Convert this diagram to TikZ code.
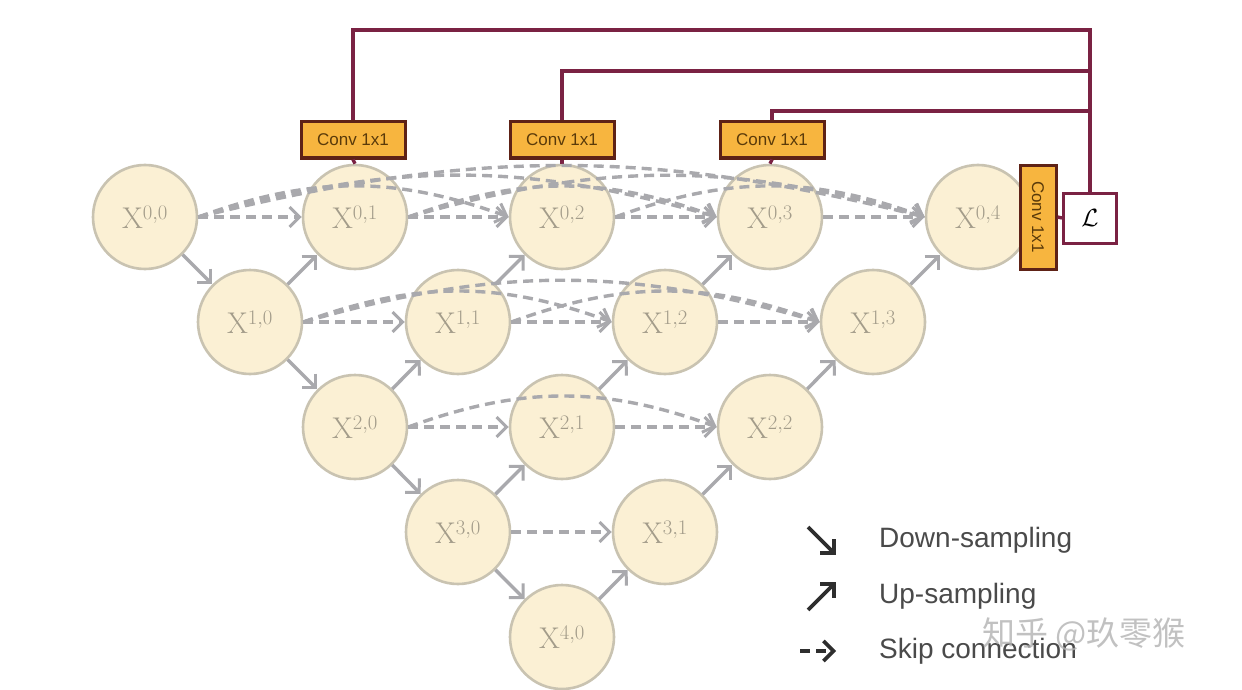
\documentclass[tikz,border=0pt]{standalone}
\usepackage{fontspec}
\setsansfont{Liberation Sans}
\newfontfamily\cjk{Noto Sans CJK SC}
\usetikzlibrary{arrows.meta,calc}
\definecolor{maroon}{HTML}{7A2243}
\definecolor{convfill}{HTML}{F7B53F}
\definecolor{convdraw}{HTML}{5E2216}
\definecolor{convtext}{HTML}{5A3A0A}
\definecolor{nodefill}{HTML}{FBF0D4}
\definecolor{nodedraw}{HTML}{C9C3B1}
\definecolor{arrgray}{HTML}{A9A9AD}
\definecolor{labgray}{HTML}{A39C8A}
\definecolor{legdark}{HTML}{2E2E2E}
\definecolor{legtext}{HTML}{4A4A4A}
\tikzset{
  xnode/.style={circle, minimum size=104pt, inner sep=0pt, draw=nodedraw, line width=2.6pt, fill=nodefill,
    text=labgray, font=\fontsize{30}{32}\selectfont},
  conv/.style={draw=convdraw, line width=3pt, fill=convfill, text=convtext, minimum width=104pt, minimum height=36pt,
    inner sep=0pt, font=\sffamily\fontsize{17}{19}\selectfont},
  lossbox/.style={draw=maroon, line width=3pt, fill=white, minimum width=53pt, minimum height=50pt, inner sep=0pt,
    font=\fontsize{26}{28}\selectfont},
  wire/.style={maroon, line width=3.4pt},
  tipg/.style={-{Straight Barb[length=10pt,width=20pt,line width=3pt]}},
  samp/.style={arrgray, line width=3.4pt, tipg},
  skip/.style={arrgray, line width=3.4pt, dash pattern=on 10pt off 6pt, tipg},
  arc/.style={skip},
  legarr/.style={legdark, line width=3.6pt, -{Straight Barb[length=10pt,width=20pt,line width=3.6pt]}},
  legtxt/.style={text=legtext, font=\sffamily\fontsize{28}{30}\selectfont, anchor=west, inner sep=0pt},
}
\begin{document}
\begin{tikzpicture}[x=1pt,y=-1pt]
\useasboundingbox (0,0) rectangle (1242,690);
\fill[white] (0,0) rectangle (1242,690);

% nodes
\node[xnode] (X00) at (145,217) {$\mathrm{X}^{0,0}$};
\node[xnode] (X01) at (355,217) {$\mathrm{X}^{0,1}$};
\node[xnode] (X02) at (562,217) {$\mathrm{X}^{0,2}$};
\node[xnode] (X03) at (770,217) {$\mathrm{X}^{0,3}$};
\node[xnode] (X04) at (978,217) {$\mathrm{X}^{0,4}$};
\node[xnode] (X10) at (250,322) {$\mathrm{X}^{1,0}$};
\node[xnode] (X11) at (458,322) {$\mathrm{X}^{1,1}$};
\node[xnode] (X12) at (665,322) {$\mathrm{X}^{1,2}$};
\node[xnode] (X13) at (873,322) {$\mathrm{X}^{1,3}$};
\node[xnode] (X20) at (355,427) {$\mathrm{X}^{2,0}$};
\node[xnode] (X21) at (562,427) {$\mathrm{X}^{2,1}$};
\node[xnode] (X22) at (770,427) {$\mathrm{X}^{2,2}$};
\node[xnode] (X30) at (458,532) {$\mathrm{X}^{3,0}$};
\node[xnode] (X31) at (665,532) {$\mathrm{X}^{3,1}$};
\node[xnode] (X40) at (562,637) {$\mathrm{X}^{4,0}$};

% conv boxes
\node[conv] (C1) at (353,140) {Conv 1x1};
\node[conv] (C2) at (562,140) {Conv 1x1};
\node[conv] (C3) at (772,140) {Conv 1x1};
\node[conv, minimum width=36pt, minimum height=104pt] (C4) at (1038,217) {\rotatebox{-90}{Conv 1x1}};
\node[lossbox] (L) at (1090,218) {$\mathcal{L}$};

% wiring
\coordinate (T1) at (1090,30);
\coordinate (T2) at (1090,71);
\coordinate (T3) at (1090,111);
\draw[wire] (C1.north) |- (T1) -- (L.north);
\draw[wire] (C2.north) |- (T2) -- (T1);
\draw[wire] (C3.north) |- (T3) -- (T1);
\draw[wire] (C1.south) -- (X01.north);
\draw[wire] (C2.south) -- (X02.north);
\draw[wire] (C3.south) -- (X03.north);
\draw[wire] (C4.east) -- (L.west);

% down-sampling
\draw[samp] (X00) -- (X10);
\draw[samp] (X10) -- (X20);
\draw[samp] (X20) -- (X30);
\draw[samp] (X30) -- (X40);
% up-sampling
\draw[samp] (X10) -- (X01);
\draw[samp] (X20) -- (X11);
\draw[samp] (X11) -- (X02);
\draw[samp] (X30) -- (X21);
\draw[samp] (X21) -- (X12);
\draw[samp] (X12) -- (X03);
\draw[samp] (X40) -- (X31);
\draw[samp] (X31) -- (X22);
\draw[samp] (X22) -- (X13);
\draw[samp] (X13) -- (X04);

% straight skips
\draw[skip] (X00) -- (X01);
\draw[skip] (X01) -- (X02);
\draw[skip] (X02) -- (X03);
\draw[skip] (X03) -- (X04);
\draw[skip] (X10) -- (X11);
\draw[skip] (X11) -- (X12);
\draw[skip] (X12) -- (X13);
\draw[skip] (X20) -- (X21);
\draw[skip] (X21) -- (X22);
\draw[skip] (X30) -- (X31);

% dense skips (curved, over the nodes)
\draw[arc] (X00.east) to[out=20,in=160] (X02.west);
\draw[arc] (X00.east) to[out=16,in=164] (X03.west);
\draw[arc] (X00.east) to[out=14,in=166] (X04.west);
\draw[arc] (X01.east) to[out=20,in=160] (X03.west);
\draw[arc] (X01.east) to[out=16,in=164] (X04.west);
\draw[arc] (X02.east) to[out=20,in=160] (X04.west);
\draw[arc] (X10.east) to[out=20,in=160] (X12.west);
\draw[arc] (X10.east) to[out=16,in=164] (X13.west);
\draw[arc] (X11.east) to[out=20,in=160] (X13.west);
\draw[arc] (X20.east) to[out=20,in=160] (X22.west);

% legend
\coordinate (LD1) at (808,527);
\coordinate (LD2) at (836,555);
\coordinate (LU1) at (808,610);
\coordinate (LU2) at (836,582);
\coordinate (LS1) at (800,651);
\coordinate (LS2) at (836,651);
\draw[legarr] (LD1) -- (LD2);
\draw[legarr] (LU1) -- (LU2);
\draw[legarr, dash pattern=on 10pt off 6pt] (LS1) -- (LS2);
\node[legtxt] (t1) at (879,540) {Down-sampling};
\node[legtxt] (t2) at (879,596) {Up-sampling};
\node[legtxt] (t3) at (879,651) {Skip connection};

% watermark
\node[text=gray!60, opacity=0.8, font=\cjk\fontsize{33}{36}\selectfont, anchor=west, inner sep=0pt] (wm) at (982,634) {知乎 @玖零猴};
\end{tikzpicture}
\end{document}
